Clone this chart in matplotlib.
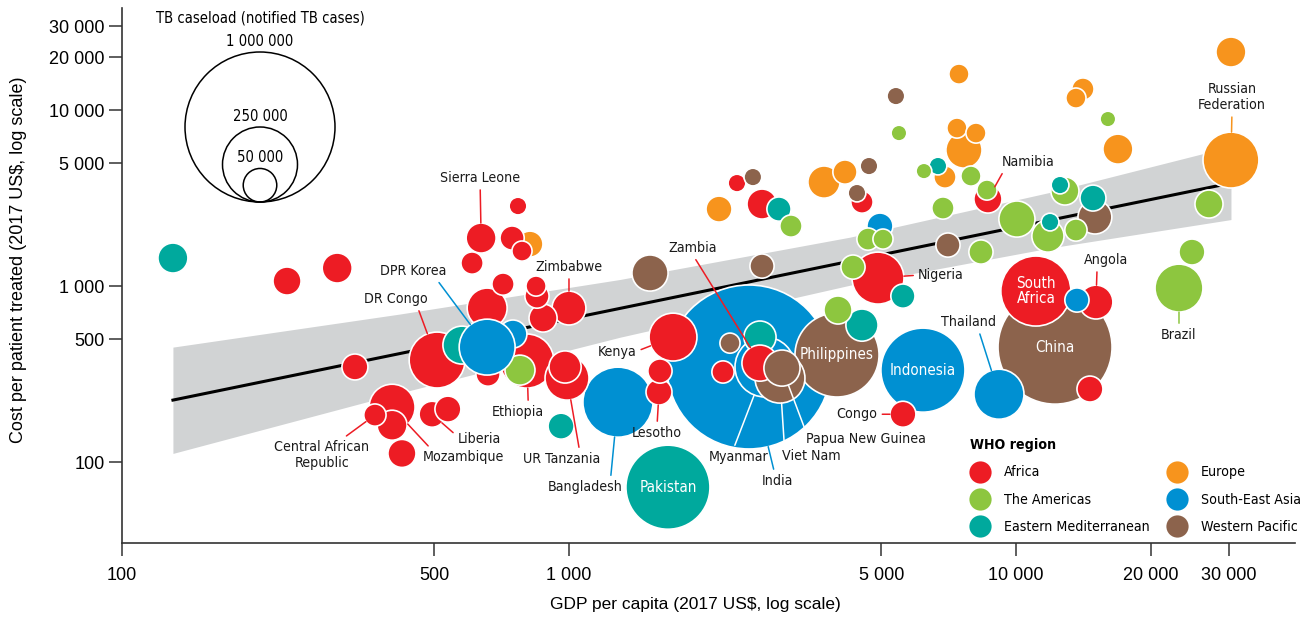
import numpy as np
import matplotlib
matplotlib.use("Agg")
import matplotlib.pyplot as plt
from matplotlib import font_manager as fm
from matplotlib.patches import Circle
from matplotlib.lines import Line2D
from matplotlib.ticker import NullLocator

# Fonts: a condensed face for the labels if one is installed, else a smaller regular face
REGULAR = ['Liberation Sans', 'DejaVu Sans']
plt.rcParams['font.family'] = REGULAR
installed = fm.fontManager.ttflist
if any(f.name == 'Liberation Sans Narrow' for f in installed):
    LABEL_FONT = dict(family=['Liberation Sans Narrow', 'DejaVu Sans'])
    LABEL_SCALE = 1.0
elif any(f.name == 'DejaVu Sans' and 'condensed' in str(f.stretch) for f in installed):
    LABEL_FONT = dict(family=['DejaVu Sans'], stretch='condensed')
    LABEL_SCALE = 0.85
else:
    LABEL_FONT = dict(family=REGULAR)
    LABEL_SCALE = 0.86

# WHO regions and their colours
region_names = ["Africa", "The Americas", "Eastern Mediterranean",
                "Europe", "South-East Asia", "Western Pacific"]
region_colors = ["#ED1C24", "#8DC63F", "#00A99D", "#F7941D", "#0090D2", "#8C634C"]

# GDP per capita (US$), cost per patient treated (US$), notified TB cases (thousands)
africa_names = ["", "", "Sierra Leone", "", "", "", "", "", "", "",
                "Zimbabwe", "", "", "DR Congo", "Ethiopia", "", "UR Tanzania", "", "", "Mozambique",
                "Central African Republic", "", "Liberia", "", "", "Kenya", "", "Lesotho", "", "Zambia",
                "Nigeria", "Congo", "", "", "", "Namibia", "South Africa", "Angola", ""]
africa_gdp = [234, 303, 636, 769, 746, 785, 607, 712, 844, 848,
              1000, 875, 656, 507, 805, 659, 990, 980, 332, 402,
              368, 402, 494, 536, 423, 1709, 1598, 1590, 2211, 2675,
              4913, 5586, 2376, 2703, 4524, 8656, 11080, 15100, 14640]
africa_cost = [1068, 1266, 1874, 2848, 1874, 1581, 1351, 1026, 1000, 877,
               750, 658, 750, 380, 375, 316, 300, 347, 347, 205,
               185, 162, 187, 200, 112, 513, 329, 250, 325, 365,
               1110, 187, 3847, 2924, 3001, 3121, 937, 811, 260]
africa_cases = [35, 40, 40, 14, 26, 18, 22, 22, 18, 26,
                51, 35, 71, 139, 130, 26, 86, 46, 30, 94,
                22, 40, 30, 30, 35, 102, 26, 30, 22, 58,
                120, 30, 14, 40, 22, 35, 218, 51, 30]

americas_names = [""] * 17 + ["Brazil", "", ""]
americas_gdp = [777, 3138, 5473, 4666, 5041, 6866, 8350, 6225, 7931, 8612,
                10050, 16060, 12870, 27030, 11790, 13620, 24760, 23160, 3998, 4319]
americas_cost = [333, 2193, 7400, 1849, 1849, 2775, 1561, 4501, 4217, 3512,
                 2403, 8890, 3466, 2924, 1924, 2081, 1561, 974, 731, 1282]
americas_cases = [40, 22, 11, 22, 18, 22, 26, 11, 18, 18,
                  58, 11, 35, 35, 46, 22, 30, 102, 35, 26]

emed_names = ["", "", "", "Pakistan", "", "", "", "", "", "", "", ""]
emed_gdp = [130, 576, 960, 1665, 2675, 4524, 5586, 2950, 6691, 12550, 14870, 11920]
emed_cost = [1443, 462, 160, 72, 513, 600, 877, 2738, 4807, 3749, 3162, 2310]
emed_cases = [40, 64, 30, 314, 46, 46, 26, 26, 14, 14, 30, 14]

europe_names = [""] * 13 + ["Russian Federation"]
europe_gdp = [818, 2166, 3720, 4144, 7456, 6937, 7650, 7379, 8138, 30270, 14120, 13620, 16910, 30270]
europe_cost = [1732, 2738, 3898, 4443, 16010, 4162, 5924, 7900, 7400, 21360, 13160, 11700, 6000, 5198]
europe_cases = [30, 30, 46, 26, 18, 22, 58, 18, 18, 40, 22, 18, 40, 139]

sea_names = ["DPR Korea", "", "Bangladesh", "India", "Myanmar", "", "Indonesia", "Thailand", ""]
sea_gdp = [656, 749, 1287, 2527, 2745, 4963, 6193, 9162, 13690]
sea_cost = [450, 534, 219, 347, 347, 2193, 333, 243, 833]
sea_cases = [139, 35, 218, 1195, 160, 30, 314, 111, 26]

wpac_names = ["", "", "", "Viet Nam", "Papua New Guinea", "Philippines", "", "", "", "", "", "", "China"]
wpac_gdp = [1518, 2703, 2292, 2965, 2996, 3978, 2579, 4690, 4409, 5388, 7045, 15020, 12230]
wpac_cost = [1186, 1299, 474, 300, 342, 406, 4162, 4807, 3376, 12010, 1710, 2466, 450]
wpac_cases = [58, 26, 18, 111, 58, 314, 14, 14, 14, 14, 26, 51, 578]

# bubbles drawn above their neighbours, as in the original
draw_last = ["DPR Korea", "Zambia", "Papua New Guinea"]

# regression line and its confidence band
fit_gdp = [130, 30270]
fit_cost = [225, 3847]
band_gdp = [130, 419, 1300, 4256, 11910, 30270]
band_low = [112, 247, 512, 1012, 1646, 2387]
band_high = [450, 694, 1090, 1897, 3407, 6206]

ticks = [100, 500, 1000, 5000, 10000, 20000, 30000]
tick_labels = ["100", "500", "1 000", "5 000", "10 000", "20 000", "30 000"]

size_key = [1000, 250, 50]          # thousands of cases
size_key_labels = ["1 000 000", "250 000", "50 000"]

# label text, offset of the text from the bubble (pixels, y up), anchor of the leader line on the text
labels = {
    "Sierra Leone": ("Sierra Leone", -1, 60, (0.5, 0)),
    "Zimbabwe": ("Zimbabwe", 0, 41, (0.5, 0)),
    "DPR Korea": ("DPR Korea", -74, 76, (0.84, 0)),
    "DR Congo": ("DR Congo", -41, 61, (0.83, 0)),
    "Ethiopia": ("Ethiopia", -9, -51, (0.7, 1)),
    "Central African Republic": ("Central African\nRepublic", -53, -40, (0.7, 1)),
    "Mozambique": ("Mozambique", 71, -50, (0.12, 1)),
    "Liberia": ("Liberia", 47, -25, (0.0, 0.7)),
    "UR Tanzania": ("UR Tanzania", -5, -81, (0.73, 1)),
    "Bangladesh": ("Bangladesh", -33, -85, (0.84, 1)),
    "Kenya": ("Kenya", -56, -15, (1, 0.55)),
    "Lesotho": ("Lesotho", -2, -41, (0.5, 1)),
    "Zambia": ("Zambia", -67, 115, (0.5, 0)),
    "Myanmar": ("Myanmar", -26, -90, (0.4, 1)),
    "India": ("India", 29, -114, (0.4, 1)),
    "Viet Nam": ("Viet Nam", 31, -78, (0.05, 1)),
    "Papua New Guinea": ("Papua New Guinea", 84, -71, (0.0, 1)),
    "Congo": ("Congo", -46, 0, (1, 0.5)),
    "Nigeria": ("Nigeria", 63, 3, (0, 0.5)),
    "Namibia": ("Namibia", 40, 37, (0.06, 0)),
    "Thailand": ("Thailand", -30, 72, (0.67, 0)),
    "Angola": ("Angola", 10, 42, (0.3, 0)),
    "Brazil": ("Brazil", 0, -47, (0.5, 1)),
    "Russian Federation": ("Russian\nFederation", 1, 63, (0.5, 0)),
}
white_leaders = {"Myanmar", "Viet Nam", "Papua New Guinea"}
inside_labels = {"Pakistan": "Pakistan", "Indonesia": "Indonesia", "Philippines": "Philippines",
                 "China": "China", "South Africa": "South\nAfrica"}

DPI = 100
PT = 72 / DPI           # points per pixel
R_1M = 75               # radius in pixels of a 1 000 000 case bubble


def radius_px(cases_k):
    return R_1M * np.sqrt(np.asarray(cases_k, dtype=float) / 1000)


fig = plt.figure(figsize=(13.08, 6.23), dpi=DPI)
ax = fig.add_axes([122 / 1308, 80 / 623, 1173 / 1308, 535 / 623])
ax.set_xscale("log")
ax.set_yscale("log")
ax.set_xlim(100, 42100)
ax.set_ylim(34.7, 38000)

ax.fill_between(band_gdp, band_low, band_high, color="#D1D3D4", lw=0, zorder=1)
ax.plot(fit_gdp, fit_cost, color="black", lw=2.2, zorder=2)

# all bubbles, largest first so small ones stay on top
regions = [
    (africa_names, africa_gdp, africa_cost, africa_cases),
    (americas_names, americas_gdp, americas_cost, americas_cases),
    (emed_names, emed_gdp, emed_cost, emed_cases),
    (europe_names, europe_gdp, europe_cost, europe_cases),
    (sea_names, sea_gdp, sea_cost, sea_cases),
    (wpac_names, wpac_gdp, wpac_cost, wpac_cases),
]
names, gdp, cost, cases, cols = [], [], [], [], []
for (nm, g, c, n), col in zip(regions, region_colors):
    names += nm
    gdp += g
    cost += c
    cases += n
    cols += [col] * len(g)
gdp = np.array(gdp, float)
cost = np.array(cost, float)
cases = np.array(cases, float)
r = radius_px(cases)

order = [i for i in np.argsort(-cases, kind="stable") if names[i] not in draw_last]
order += [names.index(nm) for nm in draw_last]
order = np.array(order)
ax.scatter(gdp[order], cost[order], s=(2 * r[order] * PT) ** 2,
           c=[cols[i] for i in order], edgecolors="white", linewidths=1.2, zorder=3)

for i, nm in enumerate(names):
    if nm in labels:
        txt, dx, dy, rel = labels[nm]
        lc = "white" if nm in white_leaders else cols[i]
        ax.annotate(txt, xy=(gdp[i], cost[i]), xytext=(dx * PT, dy * PT),
                    textcoords="offset points", ha="center", va="center",
                    fontsize=12 * LABEL_SCALE, color="#1a1a1a", zorder=5, **LABEL_FONT,
                    arrowprops=dict(arrowstyle="-", color=lc, lw=1.1,
                                    shrinkA=1.5, shrinkB=r[i] * PT, relpos=rel))
    if nm in inside_labels:
        ax.text(gdp[i], cost[i], inside_labels[nm], ha="center", va="center",
                fontsize=12.8 * LABEL_SCALE, color="white", zorder=5, linespacing=1.0,
                **LABEL_FONT)

# axes styling
for side in ["top", "right"]:
    ax.spines[side].set_visible(False)
for side in ["left", "bottom"]:
    ax.spines[side].set_color("#333333")
    ax.spines[side].set_linewidth(1.2)
ax.set_xticks(ticks)
ax.set_xticklabels(tick_labels)
ax.set_yticks(ticks)
ax.set_yticklabels(tick_labels)
ax.xaxis.set_minor_locator(NullLocator())
ax.yaxis.set_minor_locator(NullLocator())
ax.tick_params(axis="both", length=9.5, width=1.1, color="#333333", labelsize=13)
ax.tick_params(axis="x", pad=8)
ax.tick_params(axis="y", pad=3)
ax.set_xlabel("GDP per capita (2017 US$, log scale)", fontsize=12.5)
ax.set_ylabel("Cost per patient treated (2017 US$, log scale)", fontsize=13)
ax.xaxis.set_label_coords(0.4885, -0.1)
ax.yaxis.set_label_coords(-0.081, 0.529)

# WHO region legend
leg_font = dict(size=12 * LABEL_SCALE, **LABEL_FONT)
handles = [Line2D([], [], ls="none", marker="o", markersize=16, markerfacecolor=col,
                  markeredgecolor="none", label=nm) for nm, col in zip(region_names, region_colors)]
leg = ax.legend(handles=handles, ncol=2, loc="upper left", bbox_to_anchor=(970 / 1308, 1 - 438 / 623),
                bbox_transform=fig.transFigure, frameon=False, borderpad=0, borderaxespad=0,
                prop=leg_font, title="WHO region",
                title_fontproperties=dict(weight="bold", **leg_font),
                alignment="left", handlelength=1.4, handletextpad=1.0,
                columnspacing=1.2, labelspacing=0.95)

# bubble size key, drawn in pixel units
key_size = 11.5 * min(1.0, LABEL_SCALE + 0.07)
lax = fig.add_axes([160 / 1308, (623 - 210) / 623, 200 / 1308, 205 / 623])
lax.set_xlim(-100, 100)
lax.set_ylim(-8, 197)
lax.axis("off")
for val, lab in zip(size_key, size_key_labels):
    rk = float(radius_px(val))
    lax.add_patch(Circle((0, rk), rk, fill=False, ec="black", lw=1.1))
    lax.text(0, 2 * rk + 11, lab, ha="center", va="center", fontsize=key_size, **LABEL_FONT)
lax.text(0, 2 * float(radius_px(size_key[0])) + 34, "TB caseload (notified TB cases)",
         ha="center", va="center", fontsize=key_size, **LABEL_FONT)

fig.savefig("out.png", dpi=DPI)
